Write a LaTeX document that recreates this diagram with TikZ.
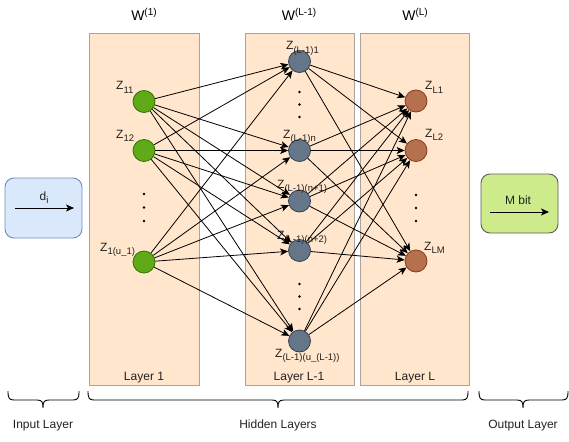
\documentclass[tikz,border=0pt]{standalone}
\usepackage{fontspec}
\setmainfont{Liberation Sans}
\usetikzlibrary{arrows.meta}
\definecolor{layerfill}{HTML}{FFE6CC}
\definecolor{layerdraw}{HTML}{A9A4A0}
\definecolor{infill}{HTML}{DAE8FC}
\definecolor{indraw}{HTML}{6C8EBF}
\definecolor{outfill}{HTML}{CDEB8B}
\definecolor{outdraw}{HTML}{5A5F55}
\definecolor{gfill}{HTML}{60A917}
\definecolor{gdraw}{HTML}{2D7600}
\definecolor{bfill}{HTML}{647687}
\definecolor{bdraw}{HTML}{314354}
\definecolor{ofill}{HTML}{B5714F}
\definecolor{odraw}{HTML}{8A3A18}
\definecolor{txt}{HTML}{222222}
\newcommand\zsub[1]{\raisebox{-3.5pt}{\fontsize{9.5}{10}\selectfont #1}}
\newcommand\wsup[1]{\raisebox{5pt}{\fontsize{10}{11}\selectfont #1}}
\tikzset{
  every node/.style={font=\fontsize{12}{14}\selectfont, text=txt, inner sep=0pt},
  layerbox/.style={draw=layerdraw, fill=layerfill, line width=0.9pt},
  gnode/.style={circle, draw=gdraw, fill=gfill, minimum size=22pt, line width=0.8pt},
  bnode/.style={circle, draw=bdraw, fill=bfill, minimum size=22pt, line width=0.8pt},
  onode/.style={circle, draw=odraw, fill=ofill, minimum size=22pt, line width=0.8pt},
  edge/.style={draw=black, line width=0.8pt, -{Stealth[length=8pt,width=7pt,inset=2pt]}},
  dotmark/.style={circle, fill=black, minimum size=2.8pt},
  lbl/.style={anchor=base west},
  ctr/.style={anchor=base},
  wlbl/.style={anchor=base, font=\fontsize{14}{16}\selectfont, text=black},
  iobox/.style={rounded corners=9pt, line width=0.9pt},
  brace/.style={draw=black, line width=0.9pt}
}
\begin{document}
\begin{tikzpicture}[x=1pt,y=-1pt]
\useasboundingbox (0,0) rectangle (569,441);

% input / output boxes
\draw[iobox, draw=indraw, fill=infill] (5,178) rectangle (82,238);
\coordinate (ina) at (15,208);
\coordinate (inb) at (74,208);
\draw[edge] (ina) -- (inb);
\node[ctr] (di) at (44,200) {d\zsub{i}};

\draw[iobox, draw=outdraw, fill=outfill] (481,174) rectangle (558,233);
\coordinate (outa) at (490,212);
\coordinate (outb) at (549,212);
\draw[edge] (outa) -- (outb);
\node[ctr] (mbit) at (518,204) {M bit};

% layer rectangles
\draw[layerbox] (89,33) rectangle (199,385);
\draw[layerbox] (245,33) rectangle (354,385);
\draw[layerbox] (360,33) rectangle (469,385);

% weight labels
\node[wlbl] (w1) at (144,21) {W\wsup{(1)}};
\node[wlbl] (wL1) at (299,21) {W\wsup{(L-1)}};
\node[wlbl] (wL) at (415,21) {W\wsup{(L)}};

% layer labels
\node[ctr] (lay1) at (144,380) {Layer 1};
\node[ctr] (layL1) at (299,380) {Layer L-1};
\node[ctr] (layL) at (415,380) {Layer L};

% neurons
\node[gnode] (g1) at (144,101.5) {};
\node[gnode] (g2) at (144,150.5) {};
\node[gnode] (g3) at (144,262) {};

\node[bnode] (b1) at (299.5,61.5) {};
\node[bnode] (b2) at (299.5,150.5) {};
\node[bnode] (b3) at (299.5,201) {};
\node[bnode] (b4) at (299.5,250.5) {};
\node[bnode] (b5) at (299.5,341) {};

\node[onode] (o1) at (416,101) {};
\node[onode] (o2) at (416,150.5) {};
\node[onode] (o3) at (416,261) {};

% dots
\node[dotmark] (gd1) at (144,194) {};
\node[dotmark] (gd2) at (144,207.5) {};
\node[dotmark] (gd3) at (144,221) {};
\node[dotmark] (bd1) at (299.5,92) {};
\node[dotmark] (bd2) at (299.5,104.5) {};
\node[dotmark] (bd3) at (299.5,117) {};
\node[dotmark] (bd4) at (299.5,284) {};
\node[dotmark] (bd5) at (299.5,296.5) {};
\node[dotmark] (bd6) at (299.5,309) {};
\node[dotmark] (od1) at (416,195) {};
\node[dotmark] (od2) at (416,208) {};
\node[dotmark] (od3) at (416,221) {};

% neuron labels
\node[lbl] (z11) at (116,90) {Z\zsub{11}};
\node[lbl] (z12) at (116,138) {Z\zsub{12}};
\node[lbl] (z1u) at (100,251) {Z\zsub{1(u\_1)}};
\node[lbl] (zb1) at (286,50) {Z\zsub{(L-1)1}};
\node[lbl] (zbn) at (283,138) {Z\zsub{(L-1)n}};
\node[lbl] (zbn1) at (277,188) {Z\zsub{(L-1)(n+1)}};
\node[lbl] (zbn2) at (277,239) {Z\zsub{(L-1)(n+2)}};
\node[lbl] (zbu) at (275,357) {Z\zsub{(L-1)(u\_(L-1))}};
\node[lbl] (zl1) at (425,90) {Z\zsub{L1}};
\node[lbl] (zl2) at (425,137) {Z\zsub{L2}};
\node[lbl] (zlm) at (424,250) {Z\zsub{LM}};

% connections
\foreach \s in {g1,g2,g3}
  \foreach \t in {b1,b2,b3,b4,b5}
    \draw[edge] (\s) -- (\t);
\foreach \s in {b1,b2,b3,b4,b5}
  \foreach \t in {o1,o2,o3}
    \draw[edge] (\s) -- (\t);

% braces
\draw[brace] (8,391) .. controls (8,398) and (9,400) .. (14,400) -- (37,400)
  .. controls (42,400) and (43,402) .. (43,408)
  .. controls (43,402) and (44,400) .. (49,400) -- (73,400)
  .. controls (78,400) and (79,398) .. (79,391);
\draw[brace] (88,391) .. controls (88,398) and (89,400) .. (94,400) -- (272,400)
  .. controls (277,400) and (278,402) .. (278,408)
  .. controls (278,402) and (279,400) .. (284,400) -- (462,400)
  .. controls (467,400) and (468,398) .. (468,391);
\draw[brace] (479,391) .. controls (479,398) and (480,400) .. (485,400) -- (517,400)
  .. controls (522,400) and (523,402) .. (523,408)
  .. controls (523,402) and (524,400) .. (529,400) -- (562,400)
  .. controls (567,400) and (568,398) .. (568,391);

\node[ctr] (inl) at (43,428) {Input Layer};
\node[ctr] (hidl) at (278,428) {Hidden Layers};
\node[ctr] (outl) at (523,428) {Output Layer};
\end{tikzpicture}
\end{document}
